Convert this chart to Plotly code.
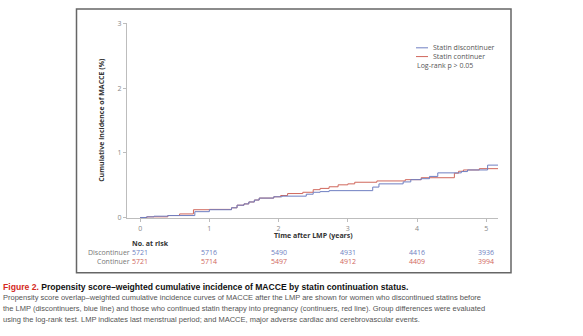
import plotly.graph_objects as go

W, H = 583, 336

# ---- data ----
disc_t = [0, 0.09, 0.2, 0.4, 0.79, 1.0, 1.32, 1.4, 1.5, 1.57, 1.65, 1.72, 1.93, 2.05, 2.4, 2.5, 2.6, 2.73,
          3.36, 3.45, 3.8, 3.91, 4.06, 4.18, 4.3, 4.64, 4.73, 5.02, 5.18]
disc_v = [0, 0.01, 0.02, 0.03, 0.09, 0.12, 0.15, 0.19, 0.21, 0.24, 0.27, 0.30, 0.32, 0.33, 0.36, 0.39, 0.40, 0.415,
          0.47, 0.52, 0.55, 0.585, 0.60, 0.635, 0.69, 0.71, 0.735, 0.81, 0.81]
cont_t = [0, 0.1, 0.4, 0.57, 0.77, 1.0, 1.32, 1.4, 1.5, 1.57, 1.65, 1.72, 1.93, 2.03, 2.13, 2.35, 2.5, 2.6, 2.73,
          2.86, 3.0, 3.1, 3.42, 3.83, 4.06, 4.54, 4.6, 4.67, 4.9, 5.18]
cont_v = [0, 0.01, 0.03, 0.055, 0.12, 0.125, 0.15, 0.19, 0.21, 0.24, 0.27, 0.30, 0.32, 0.34, 0.37, 0.39, 0.43, 0.45,
          0.475, 0.505, 0.52, 0.545, 0.565, 0.585, 0.615, 0.685, 0.715, 0.735, 0.755, 0.755]

risk_times = [0, 1, 2, 3, 4, 5]
risk_disc = [5721, 5716, 5490, 4931, 4416, 3936]
risk_cont = [5721, 5714, 5497, 4912, 4409, 3994]

x_ticks = [0, 1, 2, 3, 4, 5]
y_ticks = [0, 1, 2, 3]

BLUE = "#6f7fc2"
RED = "#d0675c"
GRAY = "#8a8a8a"
FONT = "Open Sans"
CAP = "Liberation Sans"

def py(px):
    return 1 - px / H

def pxx(px):
    return px / W

fig = go.Figure()
fig.add_trace(go.Scatter(x=cont_t, y=cont_v, mode="lines", line=dict(color=RED, width=1, shape="hv"),
                         name="Statin continuer", showlegend=False))
fig.add_trace(go.Scatter(x=disc_t, y=disc_v, mode="lines", line=dict(color=BLUE, width=1, shape="hv"),
                         name="Statin discontinuer", showlegend=False))

fig.update_layout(
    width=W, height=H, margin=dict(l=0, r=0, t=0, b=0),
    paper_bgcolor="white", plot_bgcolor="white",
    font=dict(family=FONT, size=7, color=GRAY),
    xaxis=dict(domain=[pxx(127), pxx(498)], range=[-0.19, 5.17], tickvals=x_ticks,
               showline=True, linecolor="#bdbdbd", linewidth=1, ticks="outside", ticklen=3,
               tickcolor="#bdbdbd", showgrid=False, zeroline=False,
               tickfont=dict(size=7, color="#888888", family=FONT)),
    yaxis=dict(domain=[py(219), py(19)], range=[-0.01, 3.0], tickvals=y_ticks,
               showline=True, linecolor="#bdbdbd", linewidth=1, ticks="outside", ticklen=3,
               tickcolor="#bdbdbd", showgrid=False, zeroline=False,
               tickfont=dict(size=7, color="#888888", family=FONT)),
)

def A(**kw):
    kw.setdefault("xanchor", "center")
    kw.setdefault("yanchor", "middle")
    kw.setdefault("showarrow", False)
    return kw

ann = []
# axis titles
ann.append(A(text="<b>Cumulative incidence of MACCE (%)</b>", textangle=-90, xref="paper", yref="paper",
             x=pxx(102), y=py(118), font=dict(size=7, color="#333333", family=FONT)))
ann.append(A(text="<b>Time after LMP (years)</b>", xref="x", yref="paper", x=2.5, y=py(237),
             font=dict(size=7, color="#333333", family=FONT)))
# number at risk
ann.append(A(text="<b>No. at risk</b>", xref="paper", yref="paper", x=pxx(130), y=py(245), xanchor="left",
             font=dict(size=7, color="#333333", family=FONT)))
ann.append(A(text="Discontinuer", xref="paper", yref="paper", x=pxx(132), y=py(254), xanchor="right",
             font=dict(size=7, color="#777777", family=FONT)))
ann.append(A(text="Continuer", xref="paper", yref="paper", x=pxx(132), y=py(264), xanchor="right",
             font=dict(size=7, color="#777777", family=FONT)))
for t, a, b in zip(risk_times, risk_disc, risk_cont):
    ann.append(A(text=str(a), xref="x", yref="paper", x=t, y=py(254),
                 font=dict(size=7, color=BLUE, family=FONT)))
    ann.append(A(text=str(b), xref="x", yref="paper", x=t, y=py(264),
                 font=dict(size=7, color=RED, family=FONT)))
# legend
ann.append(A(text="Statin discontinuer", xref="paper", yref="paper", x=pxx(431), y=py(44), xanchor="left",
             font=dict(size=7, color="#555555", family=FONT)))
ann.append(A(text="Statin continuer", xref="paper", yref="paper", x=pxx(431), y=py(53), xanchor="left",
             font=dict(size=7, color="#555555", family=FONT)))
ann.append(A(text="Log-rank p > 0.05", xref="paper", yref="paper", x=pxx(415), y=py(62), xanchor="left",
             font=dict(size=7, color="#555555", family=FONT)))
# caption
ann.append(A(text="<b><span style='color:#d42a1e'>Figure 2.</span> Propensity score–weighted cumulative incidence of MACCE by statin continuation status.</b>",
             xref="paper", yref="paper", x=pxx(1), y=py(290), xanchor="left",
             font=dict(size=8.6, color="#111111", family=CAP)))
cap_lines = [
    "Propensity score overlap–weighted cumulative incidence curves of MACCE after the LMP are shown for women who discontinued statins before",
    "the LMP (discontinuers, blue line) and those who continued statin therapy into pregnancy (continuers, red line). Group differences were evaluated",
    "using the log-rank test. LMP indicates last menstrual period; and MACCE, major adverse cardiac and cerebrovascular events.",
]
for i, line in enumerate(cap_lines):
    ann.append(A(text=line, xref="paper", yref="paper", x=pxx(1), y=py(301 + 11 * i), xanchor="left",
                 font=dict(size=7.5, color="#555555", family=CAP)))
fig.update_layout(annotations=ann)

shapes = [
    dict(type="rect", xref="paper", yref="paper", x0=pxx(76.5), x1=pxx(511), y0=py(275), y1=py(4),
         line=dict(color="#666666", width=1.5)),
    dict(type="line", xref="paper", yref="paper", x0=pxx(416), x1=pxx(428), y0=py(44), y1=py(44),
         line=dict(color=BLUE, width=1)),
    dict(type="line", xref="paper", yref="paper", x0=pxx(416), x1=pxx(428), y0=py(53), y1=py(53),
         line=dict(color=RED, width=1)),
]
fig.update_layout(shapes=shapes)

fig.write_html("out.html")
